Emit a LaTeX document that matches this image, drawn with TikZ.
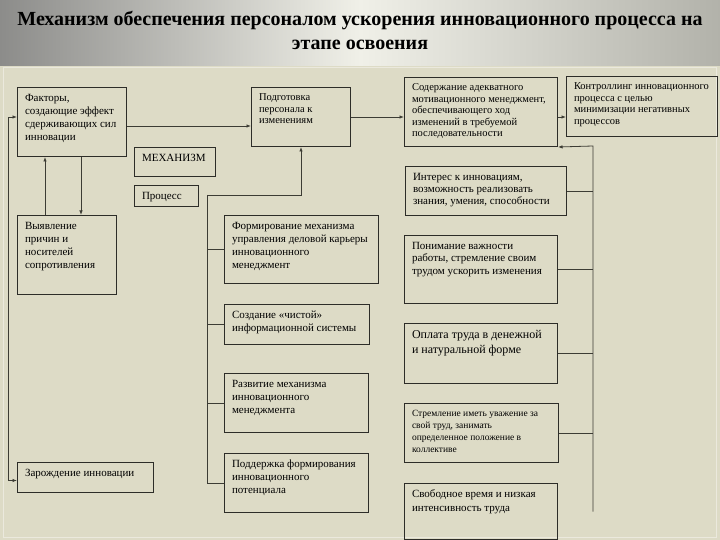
\documentclass[tikz,border=0pt]{standalone}
\usepackage{fontspec}
\setmainfont{Liberation Serif}
\usetikzlibrary{arrows.meta}
\definecolor{bg}{RGB}{221,219,198}
\definecolor{boxline}{RGB}{45,45,40}
\definecolor{linec}{RGB}{60,60,52}
\definecolor{bandL}{RGB}{140,140,138}
\definecolor{bandM}{RGB}{240,240,232}
\definecolor{bandR}{RGB}{178,178,170}
\newcommand{\boxtext}[3]{\parbox[t][\dimexpr#2pt-13pt\relax][t]{\dimexpr#1pt-15pt\relax}{#3}}
\begin{document}
\begin{tikzpicture}[
            x=1pt, y=-1pt,
            box/.style={draw=boxline, line width=1pt, anchor=north west, inner xsep=7.5pt, inner ysep=6.5pt, font=\fontsize{11}{13}\selectfont},
            rbox/.style={box, font=\fontsize{10.5}{11.5}\selectfont},
            conn/.style={draw=linec, line width=0.8pt},
            arr/.style={conn, -{Latex[length=4.5pt,width=3.5pt]}},
            both/.style={conn, {Latex[length=4.5pt,width=3.5pt]}-{Latex[length=4.5pt,width=3.5pt]}},
        ]
        \useasboundingbox (0,0) rectangle (720,540);
        \fill[bg] (0,0) rectangle (720,540);
        \shade[left color=bandL, right color=bandR, middle color=bandM] (0,0) rectangle (720,66);
        \draw[white!40!bg, line width=0.8pt] (3,67) rectangle (716,537);

        \node[font=\bfseries\fontsize{20}{24}\selectfont, align=center] (title) at (360,30) {Механизм обеспечения персоналом ускорения инновационного процесса на\\этапе освоения};

        % left column
        \node[box] (factors) at (17,87) {\boxtext{109}{69}{Факторы,\\создающие эффект\\сдерживающих сил\\инновации}};
        \node[box] (mech) at (134,147) {\boxtext{81}{29}{МЕХАНИЗМ}};
        \node[box] (proc) at (134,185) {\boxtext{64}{21}{Процесс}};
        \node[box] (reveal) at (17,215) {\boxtext{99}{79}{Выявление\\причин и\\носителей\\сопротивления}};
        \node[box] (rise) at (17,462) {\boxtext{136}{30}{Зарождение инновации}};

        % middle column
        \node[rbox] (prep) at (251,87) {\boxtext{99}{59}{Подготовка\\персонала к\\изменениям}};
        \node[box] (career) at (224,215) {\boxtext{154}{68}{Формирование механизма\\управления деловой карьеры\\инновационного\\менеджмент}};
        \node[box] (clean) at (224,304) {\boxtext{145}{40}{Создание «чистой»\\информационной системы}};
        \node[box] (develop) at (224,373) {\boxtext{144}{59}{Развитие механизма\\инновационного\\менеджмента}};
        \node[box] (support) at (224,453) {\boxtext{144}{59}{Поддержка формирования\\инновационного\\потенциала}};

        % right columns
        \node[rbox] (content) at (404,77) {\boxtext{153}{69}{Содержание адекватного\\мотивационного менеджмент,\\обеспечивающего ход\\изменений в требуемой\\последовательности}};
        \node[rbox] (control) at (566,76) {\boxtext{151}{60}{Контроллинг инновационного\\процесса с целью\\минимизации негативных\\процессов}};
        \node[box, font=\fontsize{11}{12}\selectfont] (interest) at (405,166) {\boxtext{161}{49}{Интерес к инновациям,\\возможность реализовать\\знания, умения, способности}};
        \node[box, font=\fontsize{11}{12.5}\selectfont] (understand) at (404,235) {\boxtext{153}{68}{Понимание важности\\работы, стремление своим\\трудом ускорить изменения}};
        \node[box, font=\fontsize{12}{15}\selectfont] (pay) at (404,323) {\boxtext{153}{60}{Оплата труда в денежной\\и натуральной форме}};
        \node[box, font=\fontsize{9.5}{12}\selectfont] (aspire) at (404,403) {\boxtext{154}{59}{Стремление иметь уважение за\\свой труд, занимать\\определенное положение в\\коллективе}};
        \node[box, font=\fontsize{11}{14}\selectfont] (free) at (404,483) {\boxtext{153}{56}{Свободное время и низкая\\интенсивность труда}};

        \draw[arr] ([yshift=-4pt]factors.east) -- ([yshift=-4pt]factors.east -| prep.west);
        \draw[arr] (prep.east) -- (prep.east -| content.west);
        \draw[arr] ([yshift=-5pt]content.east) -- ([yshift=-5pt]content.east -| control.west);
        \draw[arr] ([xshift=-22pt]reveal.north) -- ([xshift=-22pt]reveal.north |- factors.south);
        \draw[arr] ([xshift=14pt]reveal.north |- factors.south) -- ([xshift=14pt]reveal.north);

        \coordinate (leftbus) at (8,117);
        \draw[both] (leftbus -| factors.west) -- (leftbus) |- ([yshift=-3pt]rise.west);

        \coordinate (midbus) at (207,195);
        \draw[arr] (midbus) -| (prep.south);
        \draw[conn] (midbus) |- (support.west);
        \draw[conn] (midbus |- career.west) -- (career.west);
        \draw[conn] (midbus |- clean.west) -- (clean.west);
        \draw[conn] (midbus |- develop.west) -- (develop.west);

        \coordinate (rightbus) at (593,146);
        \draw[arr] (rightbus |- free.east) -- (rightbus) -- (content.south east);
        \draw[conn] (interest.east) -- (interest.east -| rightbus);
        \draw[conn] (understand.east) -- (understand.east -| rightbus);
        \draw[conn] (pay.east) -- (pay.east -| rightbus);
        \draw[conn] (aspire.east) -- (aspire.east -| rightbus);
\end{tikzpicture}
\end{document}
